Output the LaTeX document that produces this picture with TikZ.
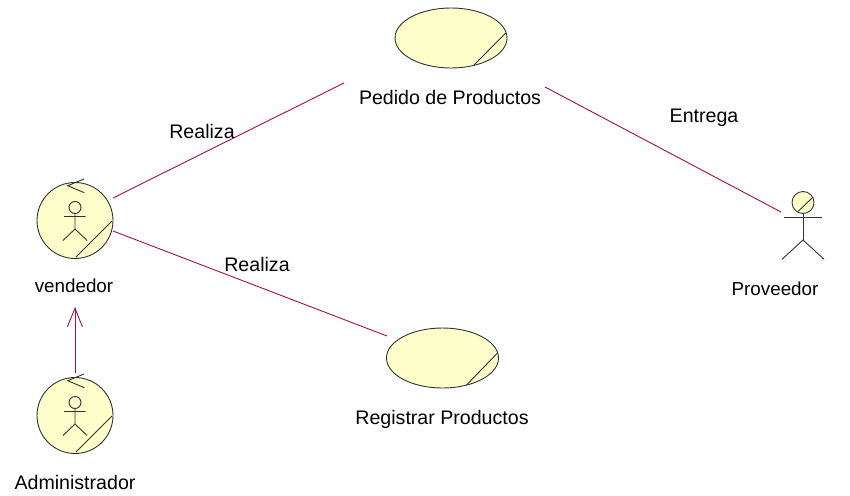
\documentclass[tikz,border=0pt]{standalone}
\usepackage{fontspec}
\setmainfont{Liberation Sans}
\usetikzlibrary{calc,shapes.geometric}
\definecolor{ucfill}{HTML}{FFFFCC}
\definecolor{ucline}{HTML}{333333}
\definecolor{rel}{HTML}{A5104C}
\tikzset{
  x=1pt,y=-1pt,
  lab/.style={font=\fontsize{19.6}{22}\selectfont,inner sep=0pt,text=black},
  labsmall/.style={lab,font=\fontsize{18.8}{22}\selectfont},
  usecase/.style={ellipse,draw=ucline,fill=ucfill,line width=.9pt,minimum width=112pt,minimum height=60pt,inner sep=0pt},
  bactor/.style={circle,draw=ucline,fill=ucfill,line width=.9pt,minimum size=76pt,inner sep=0pt},
  head/.style={circle,draw=ucline,fill=ucfill,line width=.9pt,minimum size=22pt,inner sep=0pt},
  stroke/.style={draw=ucline,line width=.9pt},
  relation/.style={draw=rel,line width=.9pt},
  pics/stick/.style={code={
    \draw[stroke] (0,-13) circle (6pt);
    \draw[stroke] (-11,-4) -- (10.5,-4) (0,-7) -- (0,8.5) (-12,20) -- (0,8.5) -- (12,20);
  }},
  pics/backhook/.style={code={
    \draw[stroke] (16.3,-6.7) -- (0,0) -- (16.6,7);
    \draw[stroke] (44.3,35.3) -- (8.3,71.3);
  }}
}
\begin{document}
\begin{tikzpicture}
\useasboundingbox (0,0) rectangle (850,495);
\node[usecase] (pedido) at (451,38) {};
\draw[stroke] ($(pedido)+(54.7,-5)$) -- ($(pedido)+(23,27)$);
\node[lab] (pedidolab) at (450,97.5) {Pedido de Productos};
\node[usecase] (registrar) at (442.5,358) {};
\draw[stroke] ($(registrar)+(55,-5)$) -- ($(registrar)+(24,27)$);
\node[lab] (registrarlab) at (442,419) {Registrar Productos};
\node[bactor] (vendedor) at (75,220.5) {};
\pic at (vendedor) {stick};
\pic at ($(vendedor)+(-7.3,-34.8)$) {backhook};
\node[labsmall] (vendedorlab) at (74,286) {vendedor};
\node[bactor] (admin) at (75,415.5) {};
\pic at (admin) {stick};
\pic at ($(admin)+(-7.3,-34.8)$) {backhook};
\node[lab] (adminlab) at (75,482) {Administrador};
\node[head] (prov) at (803,202.5) {};
\draw[stroke] ($(prov)+(-5,9)$) -- ($(prov)+(9.7,-5.2)$);
\draw[stroke] (prov.south) -- ($(prov)+(0,37.5)$) coordinate (hip);
\draw[stroke] ($(prov)+(-19,15.2)$) -- ($(prov)+(18.7,15.2)$);
\draw[stroke] ($(hip)+(-21,19.3)$) -- (hip) -- ($(hip)+(21,19.3)$);
\node[labsmall] (provlab) at (775,289) {Proveedor};
\coordinate (p1) at ($(vendedor)+(38,-22.5)$);
\coordinate (p2) at ($(pedido)+(-107,45)$);
\coordinate (p3) at ($(pedido)+(94,49)$);
\coordinate (p4) at ($(prov)+(-22,9.5)$);
\coordinate (p5) at ($(vendedor)+(38,10.5)$);
\coordinate (p6) at ($(registrar)+(-55.5,-22)$);
\coordinate (p7) at ($(admin)+(0,-42.8)$);
\coordinate (p8) at (75,308.3);
\draw[relation] (p1) -- (p2);
\draw[relation] (p3) -- (p4);
\draw[relation] (p5) -- (p6);
\draw[relation] (p7) -- (p8);
\draw[relation] ($(p8)+(-7.6,18.4)$) -- (p8) -- ($(p8)+(7.4,18.4)$);
\node[lab] (l1) at (202,131) {Realiza};
\node[lab] (l2) at (257,264) {Realiza};
\node[lab] (l3) at (704,117.5) {Entrega};
\end{tikzpicture}
\end{document}
